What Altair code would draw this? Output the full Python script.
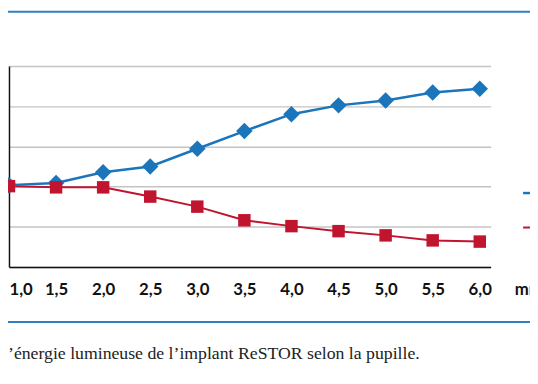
import altair as alt
import pandas as pd

# Data
pupille = [1.0, 1.5, 2.0, 2.5, 3.0, 3.5, 4.0, 4.5, 5.0, 5.5, 6.0]
loin = [40.7, 41.8, 47.1, 50.0, 58.8, 67.6, 76.0, 80.4, 82.8, 86.8, 88.7]
pres = [40.2, 39.6, 39.6, 35.0, 30.0, 23.2, 20.3, 17.8, 15.7, 13.2, 12.6]
series = ["Vision de loin", "Vision de près"]
y_ticks = [0, 20, 40, 60, 80, 100]
caption = "’énergie lumineuse de l’implant ReSTOR selon la pupille."
x_title = "mm"

colors = ["#1a75bb", "#c0142f"]
shapes = ["diamond", "square"]
sizes = [280, 160]
widths = [2.5, 2.0]

rows = []
for name, vals in zip(series, [loin, pres]):
    for p, v in zip(pupille, vals):
        rows.append({"pupille": p, "valeur": v, "serie": name})
df = pd.DataFrame(rows)

W, H = 489, 204

x_enc = alt.X(
    "pupille:Q",
    scale=alt.Scale(domain=[1.0, 6.115], nice=False, zero=False),
    axis=alt.Axis(
        values=pupille,
        labelExpr="replace(format(datum.value, '.1f'), '.', ',')",
        ticks=False, grid=False,
        domainColor="#111111", domainWidth=1.5,
        labelPadding=28, labelBaseline="alphabetic",
        labelFont="Lato", labelFontWeight="bold",
        labelFontSize=17, labelColor="#111111",
        title=x_title, titleX=513, titleY=28, titleAlign="left",
        titleBaseline="alphabetic", titleFont="Lato", titleFontWeight="bold",
        titleFontSize=17, titleColor="#111111", titleAngle=0,
    ),
)
y_enc = alt.Y(
    "valeur:Q",
    scale=alt.Scale(domain=[0, 100], nice=False),
    axis=alt.Axis(
        values=y_ticks, labels=False, ticks=False, title=None,
        domainColor="#111111", domainWidth=1.5,
        gridColor="#c4c4c4", gridWidth=1.5,
    ),
)
color_scale = alt.Scale(domain=series, range=colors)

lines = alt.Chart(df).mark_line().encode(
    x=x_enc, y=y_enc,
    color=alt.Color(
        "serie:N", scale=color_scale,
        legend=alt.Legend(
            orient="none", legendX=520, legendY=122, direction="vertical",
            symbolType="stroke", symbolStrokeWidth=3, symbolSize=100,
            labelFontSize=14, rowPadding=21, padding=0, title=None,
        ),
    ),
    strokeWidth=alt.StrokeWidth("serie:N", scale=alt.Scale(domain=series, range=widths), legend=None),
)

points = alt.Chart(df).mark_point(filled=True, opacity=1, strokeWidth=0).encode(
    x="pupille:Q", y="valeur:Q",
    color=alt.Color("serie:N", scale=color_scale, legend=None),
    shape=alt.Shape("serie:N", scale=alt.Scale(domain=series, range=shapes), legend=None),
    size=alt.Size("serie:N", scale=alt.Scale(domain=series, range=sizes), legend=None),
)

deco = pd.DataFrame({"k": [0]})
top_rule = alt.Chart(deco).mark_rule(color="#2f7fc1", strokeWidth=2).encode(
    x=alt.value(-2), x2=alt.value(535), y=alt.value(-55)
)
bottom_rule = alt.Chart(deco).mark_rule(color="#2f7fc1", strokeWidth=2).encode(
    x=alt.value(-2), x2=alt.value(535), y=alt.value(260)
)
cap = alt.Chart(deco).mark_text(
    text=caption, align="left", baseline="alphabetic",
    font="Liberation Serif", fontSize=18, color="#222222",
).encode(x=alt.value(-1), y=alt.value(298))

chart = alt.layer(lines, points, top_rule, bottom_rule, cap).resolve_scale(
    color="independent", shape="independent", size="independent",
    strokeWidth="independent",
).resolve_legend(color="independent").properties(
    width=W, height=H,
    autosize=alt.AutoSizeParams(type="none"),
    padding={"left": 1, "top": 56, "right": 40, "bottom": 116},
).configure_view(stroke=None)

chart.save("out.html", embed_options={"renderer": "svg", "actions": False})
